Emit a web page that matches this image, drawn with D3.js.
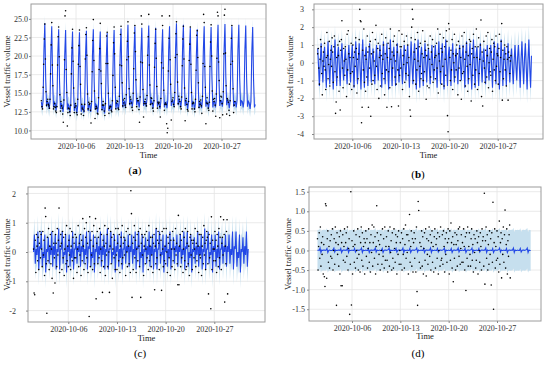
<!DOCTYPE html>
<html>
<head>
<meta charset="utf-8">
<script src="https://cdn.jsdelivr.net/npm/d3@7"></script>
<style>
  body { margin: 0; background: #fff; }
  svg { display: block; font-family: "Liberation Serif", "Times New Roman", serif; }
  svg text { font-family: "Liberation Serif", "Times New Roman", serif; }
  .tick text { fill: #333; font-size: 8px; }
  .tick line { stroke: #888; }
  .grid line { stroke: #e4e4e4; stroke-width: 0.8; }
</style>
</head>
<body>
<svg id="chart" width="550" height="369"></svg>
<script>
// hourly series start, samples within each day, axis ticks
var startDay = "2020-10-01";
var tickDates = ["2020-10-06", "2020-10-13", "2020-10-20", "2020-10-27"];
var fcHours = [0, 3, 6, 9, 12, 15, 18, 21];
var obsHours = [0, 2, 4, 6, 8, 10, 12, 14, 16, 18, 20, 22];

var yTicksA = [10, 12.5, 15, 17.5, 20, 22.5, 25];
var yTicksB = [-4, -3, -2, -1, 0, 1, 2, 3];
var yTicksC = [-2, -1, 0, 1, 2];
var yTicksD = [-1.5, -1, -0.5, 0, 0.5, 1, 1.5];

// half width of the uncertainty interval
var bandHalfA = 1.1;
var bandHalfB = 0.8;
var bandHalfC = 0.55;
var bandHalfD = 0.52;

// (a) forecast, one row per day (Oct 1 - Oct 31)
var forecastA = [
  [13.8, 13.0, 14.0, 20.8, 24.4, 17.0, 13.2, 13.9],
  [13.7, 12.9, 13.9, 20.5, 24.0, 16.9, 13.1, 13.8],
  [13.6, 12.7, 13.7, 20.2, 23.6, 16.6, 12.9, 13.6],
  [13.4, 12.5, 13.6, 20.1, 23.5, 16.5, 12.8, 13.5],
  [13.3, 12.4, 13.5, 19.9, 23.3, 16.4, 12.6, 13.4],
  [13.2, 12.3, 13.4, 19.8, 23.2, 16.3, 12.5, 13.3],
  [13.3, 12.4, 13.5, 20.0, 23.4, 16.4, 12.6, 13.4],
  [13.4, 12.5, 13.6, 20.1, 23.6, 16.5, 12.8, 13.5],
  [13.3, 12.4, 13.5, 19.9, 23.3, 16.4, 12.7, 13.4],
  [13.2, 12.3, 13.4, 19.7, 23.1, 16.2, 12.6, 13.3],
  [13.4, 12.6, 13.7, 20.1, 23.5, 16.6, 12.9, 13.6],
  [13.6, 12.8, 13.9, 20.3, 23.7, 16.8, 13.1, 13.8],
  [13.9, 13.1, 14.2, 20.8, 24.2, 17.2, 13.4, 14.1],
  [13.9, 13.2, 14.2, 20.7, 24.0, 17.1, 13.4, 14.0],
  [13.8, 13.1, 14.1, 20.5, 23.8, 17.0, 13.3, 13.9],
  [13.9, 13.2, 14.3, 20.8, 24.1, 17.2, 13.4, 14.0],
  [13.7, 13.0, 14.0, 20.5, 23.8, 16.9, 13.2, 13.8],
  [13.6, 12.9, 13.9, 20.3, 23.6, 16.8, 13.1, 13.7],
  [13.8, 13.0, 14.1, 20.7, 24.0, 17.0, 13.3, 13.9],
  [14.0, 13.2, 14.3, 21.0, 24.4, 17.3, 13.4, 14.1],
  [13.9, 13.1, 14.2, 20.8, 24.2, 17.2, 13.3, 14.0],
  [13.7, 12.9, 14.0, 20.5, 23.8, 16.9, 13.1, 13.8],
  [13.6, 12.8, 13.8, 20.2, 23.6, 16.7, 13.0, 13.7],
  [13.8, 13.0, 14.0, 20.6, 24.0, 17.0, 13.2, 13.9],
  [13.7, 12.9, 13.9, 20.5, 23.9, 16.9, 13.1, 13.8],
  [13.9, 13.1, 14.1, 20.8, 24.2, 17.1, 13.3, 14.0],
  [14.0, 13.2, 14.2, 20.9, 24.3, 17.2, 13.4, 14.1],
  [13.8, 13.0, 14.0, 20.6, 24.0, 17.0, 13.2, 13.9],
  [13.9, 13.1, 14.1, 20.8, 24.2, 17.1, 13.3, 14.0],
  [13.9, 13.1, 14.0, 20.7, 24.1, 17.0, 13.2, 13.9],
  [13.7, 12.9, 13.9, 20.5, 23.9, 16.9, 13.1, 13.5]
];

// (a) observations, one row per day (Oct 1 - Oct 28)
var observedA = [
  [14.0, 13.2, 12.9, 15.8, 18.9, 22.3, 24.3, 19.6, 15.2, 13.4, 13.9, 14.2],
  [13.5, 13.3, 13.0, 14.2, 17.6, 21.5, 24.5, 18.8, 16.0, 12.9, 13.2, 13.6],
  [13.1, 12.6, 12.4, 13.2, 18.8, 22.6, 23.9, 19.9, 14.8, 12.6, 13.9, 13.3],
  [13.0, 12.2, 11.1, 14.1, 19.5, 25.4, 26.1, 18.2, 15.1, 10.6, 12.4, 13.0],
  [12.9, 12.5, 12.0, 13.4, 17.6, 21.1, 23.6, 19.3, 15.7, 12.4, 13.1, 13.6],
  [13.3, 12.4, 12.1, 14.2, 18.9, 21.4, 23.5, 18.6, 16.2, 12.2, 13.5, 13.0],
  [12.8, 12.0, 12.6, 13.5, 19.6, 22.9, 23.8, 20.1, 14.9, 12.9, 13.8, 13.5],
  [13.6, 12.7, 11.0, 13.9, 17.9, 22.1, 24.9, 19.4, 15.3, 11.6, 12.9, 13.2],
  [13.0, 12.3, 12.2, 14.4, 18.2, 21.0, 24.4, 18.0, 16.3, 12.8, 13.4, 13.9],
  [13.4, 12.6, 12.0, 13.6, 19.0, 22.7, 23.2, 19.0, 15.0, 12.3, 13.0, 13.2],
  [13.2, 12.7, 12.5, 14.0, 17.4, 21.8, 23.9, 20.3, 15.8, 12.9, 13.7, 14.0],
  [13.9, 13.0, 12.8, 14.6, 18.8, 22.9, 24.0, 18.7, 16.4, 13.3, 14.1, 13.7],
  [14.3, 13.4, 13.1, 14.8, 19.5, 22.0, 24.6, 19.9, 15.6, 13.6, 14.5, 14.2],
  [13.7, 13.1, 12.7, 15.0, 18.3, 23.1, 24.1, 20.6, 16.8, 13.2, 14.3, 14.0],
  [14.0, 12.8, 11.1, 14.5, 19.2, 25.4, 24.3, 19.1, 15.5, 11.8, 13.6, 13.9],
  [14.2, 13.6, 13.3, 14.7, 20.1, 22.6, 25.6, 18.8, 16.1, 13.5, 14.4, 14.3],
  [13.6, 13.0, 12.6, 14.0, 18.5, 21.7, 23.6, 19.7, 15.9, 13.0, 13.8, 13.6],
  [13.8, 13.2, 11.8, 14.3, 19.1, 25.4, 24.1, 18.4, 15.4, 12.7, 13.5, 13.7],
  [13.5, 10.9, 9.7, 10.3, 18.0, 22.4, 25.4, 19.5, 16.2, 11.4, 13.9, 14.1],
  [14.4, 13.5, 13.2, 15.1, 19.8, 23.0, 24.6, 20.2, 16.5, 13.6, 14.6, 14.2],
  [13.9, 13.2, 12.9, 14.5, 18.7, 22.3, 24.0, 19.6, 15.7, 11.3, 14.0, 14.3],
  [13.5, 12.8, 12.6, 13.9, 19.4, 21.6, 23.9, 18.9, 15.1, 12.9, 13.6, 13.8],
  [13.7, 12.9, 12.5, 14.2, 18.1, 22.8, 23.4, 19.8, 16.4, 13.1, 13.9, 13.5],
  [14.1, 13.3, 12.3, 14.6, 19.0, 25.6, 24.5, 18.6, 15.8, 10.9, 13.7, 14.4],
  [13.6, 13.0, 12.7, 13.8, 18.6, 21.9, 24.2, 20.0, 15.3, 12.6, 14.2, 13.9],
  [14.3, 13.4, 11.9, 14.9, 19.7, 25.9, 25.4, 19.2, 16.7, 11.7, 14.0, 14.6],
  [14.5, 13.6, 12.1, 15.2, 20.3, 25.5, 26.3, 20.4, 16.0, 12.2, 14.3, 14.1],
  [13.8, 12.7, 12.0, 14.0, 18.9, 22.4, 24.1, 19.3, 15.6, 12.4, 13.4, 13.9]
];

var forecastB = [
  [0.8, -0.2, -1.3, 0.1, 1.1, -0.1, -1.1, 0.3],
  [0.9, -0.3, -1.4, 0.2, 1.2, -0.2, -1.2, 0.3],
  [1.0, -0.3, -1.5, 0.1, 1.3, -0.1, -1.3, 0.4],
  [0.9, -0.2, -1.3, 0.2, 1.1, -0.2, -1.0, 0.2],
  [0.8, -0.3, -1.2, 0.1, 1.0, -0.1, -1.1, 0.3],
  [1.0, -0.2, -1.4, 0.2, 1.2, -0.1, -1.2, 0.3],
  [1.1, -0.3, -1.5, 0.1, 1.3, -0.2, -1.4, 0.4],
  [0.9, -0.2, -1.3, 0.2, 1.1, -0.1, -1.1, 0.2],
  [0.8, -0.3, -1.2, 0.1, 1.0, -0.2, -1.0, 0.3],
  [1.0, -0.2, -1.4, 0.2, 1.2, -0.1, -1.2, 0.3],
  [1.1, -0.3, -1.5, 0.1, 1.3, -0.1, -1.3, 0.4],
  [0.9, -0.2, -1.3, 0.2, 1.1, -0.2, -1.1, 0.2],
  [0.8, -0.3, -1.2, 0.1, 1.0, -0.1, -1.0, 0.3],
  [1.0, -0.2, -1.4, 0.2, 1.2, -0.1, -1.2, 0.3],
  [1.1, -0.3, -1.5, 0.1, 1.3, -0.2, -1.4, 0.4],
  [0.9, -0.2, -1.3, 0.2, 1.1, -0.1, -1.1, 0.2],
  [0.8, -0.3, -1.2, 0.1, 1.0, -0.2, -1.0, 0.3],
  [1.0, -0.2, -1.4, 0.2, 1.2, -0.1, -1.2, 0.3],
  [1.1, -0.3, -1.5, 0.1, 1.3, -0.1, -1.3, 0.4],
  [0.9, -0.2, -1.3, 0.2, 1.1, -0.2, -1.1, 0.2],
  [0.8, -0.3, -1.2, 0.1, 1.0, -0.1, -1.0, 0.3],
  [1.0, -0.2, -1.4, 0.2, 1.2, -0.1, -1.2, 0.3],
  [1.1, -0.3, -1.5, 0.1, 1.3, -0.2, -1.4, 0.4],
  [0.9, -0.2, -1.3, 0.2, 1.1, -0.1, -1.1, 0.2],
  [0.8, -0.3, -1.2, 0.1, 1.0, -0.2, -1.0, 0.3],
  [1.0, -0.2, -1.4, 0.2, 1.2, -0.1, -1.2, 0.3],
  [1.1, -0.3, -1.5, 0.1, 1.3, -0.1, -1.3, 0.4],
  [0.9, -0.2, -1.3, 0.2, 1.1, -0.2, -1.1, 0.2],
  [0.8, -0.3, -1.2, 0.1, 1.0, -0.1, -1.0, 0.3],
  [1.0, -0.2, -1.4, 0.2, 1.2, -0.1, -1.2, 0.3],
  [1.1, -0.3, -1.5, 0.1, 1.3, -0.2, -1.4, 0.4]
];

var observedB = [
  [0.5, 0.8, -0.3, -1.2, 0.2, 1.3, 0.9, -0.6, -1.8, 0.1, 0.6, -0.2],
  [1.1, -0.4, -1.5, 0.3, 1.7, 0.4, -0.9, -0.1, 1.2, -1.3, 0.2, 0.7],
  [-0.2, 1.4, 0.6, -1.1, 0.9, 1.5, -0.5, -2.84, -2.2, 0.3, -0.8, 1.0],
  [0.4, -1.6, 1.2, -2.65, 0.7, 1.3, 2.36, -0.3, -1.4, 0.8, 0.1, -0.7],
  [0.9, 0.2, -1.9, 1.6, -0.4, 1.8, 0.5, -1.2, 0.3, -0.6, 1.1, -1.5],
  [-0.5, 1.0, 0.3, -1.3, 0.6, -0.2, 1.4, 0.8, -1.7, 0.2, -0.9, 0.5],
  [1.3, 3.0, 2.36, 2.3, -3.37, -2.5, 0.7, -0.4, 1.9, -1.1, 0.4, -1.6],
  [0.2, -0.8, 1.5, 0.6, -2.5, 0.9, -0.3, 1.2, -3.0, 0.5, -1.2, 1.7],
  [-1.0, 0.6, 0.1, -0.7, 1.3, 2.1, -0.2, -1.5, 0.8, 1.1, -2.0, 0.3],
  [0.7, -1.3, 0.4, 1.6, -0.6, 0.2, 1.0, -0.9, -1.8, 0.5, 1.4, -0.4],
  [-2.5, 0.3, 1.1, -0.5, 0.8, -1.4, 1.9, 0.2, -2.47, 0.6, -0.3, 1.2],
  [0.4, 1.5, -0.8, 0.1, -1.2, 1.0, 0.6, -0.4, -2.43, 1.8, -0.7, 0.9],
  [-0.3, 0.9, 1.6, -1.5, 0.4, -0.1, 1.2, -1.1, 0.7, -0.6, 1.5, 0.0],
  [1.0, -0.7, 0.3, -1.9, -2.65, -3.0, 1.4, 2.0, 3.0, 2.45, -1.0, 0.6],
  [0.2, 1.3, -1.2, 0.8, -0.4, 1.7, 0.1, -1.6, 0.9, -0.2, 1.1, -0.9],
  [-0.6, 0.5, 1.8, -1.0, 0.3, -0.5, 1.2, 0.7, -2.05, 0.4, -1.3, 1.0],
  [0.8, -1.4, 0.2, 1.5, -0.8, 0.6, -0.1, 1.3, -1.1, 0.9, -0.4, 0.3],
  [-0.9, 0.4, 1.1, -0.3, 1.9, -1.7, 0.5, 0.1, 1.6, -0.5, 0.8, -1.2],
  [0.6, -0.2, 1.4, -1.3, 0.9, 0.2, -0.7, 1.8, 1.2, -2.97, -3.87, 2.2],
  [1.9, 0.3, -1.0, 0.7, -0.4, 1.3, -1.5, 0.5, 0.0, 1.6, -0.8, 0.4],
  [-0.4, 1.0, 0.5, -1.8, 1.2, -0.3, 0.8, -1.0, 0.3, -2.05, 1.5, -0.6],
  [0.9, -0.5, 1.7, 0.2, -1.3, 0.6, 1.1, -0.2, -1.6, 0.4, -0.9, 1.3],
  [-0.1, 1.2, -2.15, 0.5, 0.8, -0.7, 1.6, 0.3, -1.2, 0.9, -0.4, 1.9],
  [0.3, -1.5, 0.9, 1.4, -0.6, 0.2, 1.0, 2.4, -1.9, 0.6, -2.43, 0.1],
  [1.2, -0.3, -1.1, 0.7, 1.5, -0.8, 0.4, 1.7, -1.4, 0.0, 0.8, -0.5],
  [-0.7, 0.6, 1.3, -1.6, 0.2, 1.1, -0.4, 0.9, -1.0, 1.5, -0.2, 0.5],
  [0.4, -1.2, 0.8, 1.6, -0.5, 0.3, 1.2, 2.2, -2.1, 0.7, -0.9, 0.2],
  [1.0, -0.4, 0.5, -1.3, 0.9, 0.2, -2.1, 0.6, 0.3, -0.6, 0.1, 0.4]
];

var forecastC = [
  [0.0, 0.6, -0.4, 0.1, -0.1, 0.7, -0.6, 0.2],
  [0.1, 0.7, -0.5, 0.0, -0.2, 0.6, -0.7, 0.1],
  [0.0, 0.5, -0.4, 0.2, -0.1, 0.7, -0.5, 0.2],
  [-0.1, 0.6, -0.6, 0.1, 0.0, 0.8, -0.6, 0.1],
  [0.1, 0.7, -0.4, 0.0, -0.1, 0.6, -0.7, 0.2],
  [0.0, 0.6, -0.5, 0.1, -0.2, 0.7, -0.6, 0.1],
  [0.1, 0.5, -0.4, 0.2, 0.0, 0.6, -0.5, 0.2],
  [0.0, 0.6, -0.4, 0.1, -0.1, 0.7, -0.6, 0.2],
  [0.1, 0.7, -0.5, 0.0, -0.2, 0.6, -0.7, 0.1],
  [0.0, 0.5, -0.4, 0.2, -0.1, 0.7, -0.5, 0.2],
  [-0.1, 0.6, -0.6, 0.1, 0.0, 0.8, -0.6, 0.1],
  [0.1, 0.7, -0.4, 0.0, -0.1, 0.6, -0.7, 0.2],
  [0.0, 0.6, -0.5, 0.1, -0.2, 0.7, -0.6, 0.1],
  [0.1, 0.5, -0.4, 0.2, 0.0, 0.6, -0.5, 0.2],
  [0.0, 0.6, -0.4, 0.1, -0.1, 0.7, -0.6, 0.2],
  [0.1, 0.7, -0.5, 0.0, -0.2, 0.6, -0.7, 0.1],
  [0.0, 0.5, -0.4, 0.2, -0.1, 0.7, -0.5, 0.2],
  [-0.1, 0.6, -0.6, 0.1, 0.0, 0.8, -0.6, 0.1],
  [0.1, 0.7, -0.4, 0.0, -0.1, 0.6, -0.7, 0.2],
  [0.0, 0.6, -0.5, 0.1, -0.2, 0.7, -0.6, 0.1],
  [0.1, 0.5, -0.4, 0.2, 0.0, 0.6, -0.5, 0.2],
  [0.0, 0.6, -0.4, 0.1, -0.1, 0.7, -0.6, 0.2],
  [0.1, 0.7, -0.5, 0.0, -0.2, 0.6, -0.7, 0.1],
  [0.0, 0.5, -0.4, 0.2, -0.1, 0.7, -0.5, 0.2],
  [-0.1, 0.6, -0.6, 0.1, 0.0, 0.8, -0.6, 0.1],
  [0.1, 0.7, -0.4, 0.0, -0.1, 0.6, -0.7, 0.2],
  [0.0, 0.6, -0.5, 0.1, -0.2, 0.7, -0.6, 0.1],
  [0.1, 0.5, -0.4, 0.2, 0.0, 0.6, -0.5, 0.2],
  [0.0, 0.6, -0.4, 0.1, -0.1, 0.7, -0.6, 0.2],
  [0.1, 0.7, -0.5, 0.0, -0.2, 0.6, -0.7, 0.1],
  [0.0, 0.5, -0.4, 0.2, -0.1, 0.7, -0.5, 0.1]
];

var observedC = [
  [0.1, -1.4, -1.46, 0.4, -0.7, 0.6, 0.2, -0.3, 0.5, -0.6, 0.3, 0.7],
  [-0.2, 0.6, 0.1, -0.5, 0.7, -0.1, 0.4, -0.8, 1.5, 1.21, -0.4, -2.09],
  [0.5, -0.3, 0.8, -0.6, 0.2, 0.6, -0.4, 0.1, -0.9, 0.7, -1.4, 0.3],
  [-0.2, -1.06, 0.6, 0.3, -0.5, 0.8, -0.1, 0.4, 1.5, -0.7, 0.2, 0.6],
  [0.3, -0.6, 0.7, -0.2, 0.5, -0.8, 0.1, 0.6, -0.4, 0.9, -0.3, 0.2],
  [-0.5, 0.4, -0.1, 0.8, -0.6, 0.2, 0.7, -0.3, 0.5, -0.9, 0.3, -0.2],
  [0.6, -0.2, 0.5, -0.7, 0.1, 0.9, -0.5, 0.3, -0.1, 0.6, -0.8, 0.4],
  [-0.3, 1.14, 0.2, -0.6, 0.8, -0.4, 0.5, 1.0, -0.2, 0.3, -0.7, 0.7],
  [-2.2, 1.2, -0.5, 0.4, -0.1, 0.7, -0.6, 0.2, 0.9, -0.4, 0.5, 1.14],
  [-1.6, 0.3, 0.7, -0.4, 0.5, -0.2, 0.8, -0.7, 0.1, 0.6, -0.3, -1.38],
  [0.4, -0.5, 0.2, 0.9, -0.8, 0.3, -0.1, 0.6, -0.5, 0.8, 0.0, -1.38],
  [0.2, 0.7, -0.4, 0.5, -0.9, 0.1, 0.6, -0.2, 0.4, -0.6, 0.8, -0.1],
  [-0.6, 0.3, 0.8, -0.3, 0.6, -0.7, 0.2, 0.5, -0.4, 0.9, -0.2, 0.3],
  [0.5, -0.1, 0.4, -0.8, 0.7, 0.0, -0.5, 0.8, 0.2, -0.4, 0.6, -0.7],
  [2.09, 1.31, -1.55, 0.3, -0.6, 0.5, 0.9, -0.2, 0.4, -0.7, 0.1, 0.6],
  [-0.3, 0.7, 0.2, -0.5, 0.8, -1.55, 0.3, 0.6, -0.1, 0.5, -0.8, 0.2],
  [0.6, -0.4, 0.1, 0.7, -0.2, 0.4, -0.6, 0.9, -0.3, 0.2, 0.5, -0.5],
  [-0.1, 0.5, -0.7, 0.3, 0.6, -1.29, 0.2, -0.4, 0.8, -0.2, 0.4, 0.7],
  [0.3, -0.6, 0.6, -0.1, 0.4, -1.31, 0.7, 0.1, -0.5, 0.8, -0.3, 0.2],
  [-0.4, 0.8, 0.0, -0.7, 0.5, 0.3, -0.2, 0.6, -0.8, 0.4, 0.1, -0.5],
  [0.7, -0.3, 0.4, 0.1, -0.6, 0.8, -0.1, 0.3, -0.4, -1.12, 1.25, -1.12],
  [0.2, 0.6, -0.5, 0.4, -0.2, 0.7, -0.7, 0.1, 0.5, -0.3, 0.8, -0.6],
  [-0.5, 0.3, 0.7, -0.4, 0.2, -0.8, 0.5, 0.6, -0.1, 0.4, -0.6, 0.3],
  [0.4, -0.2, 0.1, 0.8, -0.5, 0.3, -0.3, 0.7, 0.2, -0.7, 0.6, -0.1],
  [-0.2, 0.6, -0.8, 0.2, 0.5, -0.4, 0.9, -0.1, 0.3, -0.6, 0.4, 0.7],
  [0.5, -0.4, -1.43, 0.6, -0.2, 0.3, -1.94, 1.2, -0.6, 0.4, 0.1, -0.3],
  [0.1, 0.7, -0.3, 0.4, -0.7, 0.6, 0.2, -0.5, 0.8, -0.2, 0.5, 1.2],
  [-0.6, 0.3, 0.5, -0.1, 1.1, 0.6, -1.71, 0.2, -0.4, 0.7, 1.1, -1.43]
];

var forecastD = [
  [0.0, 0.01, 0.0, 0.06, -0.05, 0.01, 0.0, 0.01],
  [0.01, 0.0, 0.01, 0.05, -0.05, 0.0, 0.01, 0.0],
  [0.0, 0.0, 0.02, 0.06, -0.04, 0.01, 0.0, 0.0],
  [0.01, 0.01, 0.0, 0.05, -0.05, 0.0, 0.01, 0.01],
  [0.0, 0.01, 0.01, 0.06, -0.05, 0.01, 0.0, 0.0],
  [0.01, 0.0, 0.0, 0.05, -0.04, 0.0, 0.01, 0.01],
  [0.0, 0.01, 0.02, 0.06, -0.05, 0.01, 0.0, 0.0],
  [0.01, 0.0, 0.0, 0.05, -0.05, 0.0, 0.01, 0.01],
  [0.0, 0.01, 0.01, 0.06, -0.04, 0.01, 0.0, 0.0],
  [0.01, 0.0, 0.0, 0.05, -0.05, 0.0, 0.01, 0.01],
  [0.0, 0.01, 0.02, 0.06, -0.05, 0.01, 0.0, 0.0],
  [0.01, 0.0, 0.0, 0.05, -0.04, 0.0, 0.01, 0.01],
  [0.0, 0.01, 0.01, 0.06, -0.05, 0.01, 0.0, 0.0],
  [0.01, 0.0, 0.0, 0.05, -0.05, 0.0, 0.01, 0.01],
  [0.0, 0.01, 0.02, 0.06, -0.04, 0.01, 0.0, 0.0],
  [0.01, 0.0, 0.0, 0.05, -0.05, 0.0, 0.01, 0.01],
  [0.0, 0.01, 0.01, 0.06, -0.05, 0.01, 0.0, 0.0],
  [0.01, 0.0, 0.0, 0.05, -0.04, 0.0, 0.01, 0.01],
  [0.0, 0.01, 0.02, 0.06, -0.05, 0.01, 0.0, 0.0],
  [0.01, 0.0, 0.0, 0.05, -0.05, 0.0, 0.01, 0.01],
  [0.0, 0.01, 0.01, 0.06, -0.04, 0.01, 0.0, 0.0],
  [0.01, 0.0, 0.0, 0.05, -0.05, 0.0, 0.01, 0.01],
  [0.0, 0.01, 0.02, 0.06, -0.05, 0.01, 0.0, 0.0],
  [0.01, 0.0, 0.0, 0.05, -0.04, 0.0, 0.01, 0.01],
  [0.0, 0.01, 0.01, 0.06, -0.05, 0.01, 0.0, 0.0],
  [0.01, 0.0, 0.0, 0.05, -0.05, 0.0, 0.01, 0.01],
  [0.0, 0.01, 0.02, 0.06, -0.04, 0.01, 0.0, 0.0],
  [0.01, 0.0, 0.0, 0.05, -0.05, 0.0, 0.01, 0.01],
  [0.0, 0.01, 0.01, 0.06, -0.05, 0.01, 0.0, 0.0],
  [0.01, 0.0, 0.0, 0.05, -0.04, 0.0, 0.01, 0.01],
  [0.0, 0.01, 0.02, 0.06, -0.05, 0.01, 0.0, 0.0]
];

var observedD = [
  [0.3, -0.5, 0.1, 0.45, -0.2, 0.6, -0.4, 0.2, -0.1, 0.35, -0.6, 0.15],
  [-0.67, -0.92, 1.19, 1.14, -0.71, 0.3, 0.5, -0.3, 0.1, -0.45, 0.25, -0.15],
  [0.4, -0.2, 0.55, -0.5, 0.0, 0.3, -0.35, 0.6, 0.2, -1.4, 0.45, -0.1],
  [0.15, -0.4, 0.35, -0.6, 0.5, -0.9, 0.2, -0.9, 0.4, -0.25, 0.1, 0.55],
  [-0.3, 0.2, 0.45, -0.15, 0.6, -0.5, 0.05, 0.3, -1.63, -0.35, 1.5, -1.39],
  [0.25, -0.6, 0.1, 0.5, -0.3, 0.15, -0.45, 0.4, 0.0, -0.2, 0.55, -0.5],
  [-0.1, 0.35, -0.55, 0.2, 0.6, -0.25, 0.45, -0.4, 0.1, 0.3, -0.6, 0.2],
  [0.5, -0.15, 0.3, -0.45, 0.05, 0.55, -0.3, 0.2, -0.55, 0.4, -0.05, 0.65],
  [-0.4, 0.2, 0.6, -0.2, 0.35, -0.6, 0.1, 1.14, 0.45, -0.35, 0.25, -0.1],
  [0.15, -0.5, 0.4, 0.0, -0.35, 0.55, -0.15, 0.3, -0.45, 0.6, -0.25, 0.1],
  [0.35, -0.25, -0.55, 0.5, 0.1, -0.4, 0.6, -0.05, 0.25, -0.5, 0.45, -0.2],
  [-0.45, 0.55, 0.05, -0.3, 0.4, 0.2, -0.6, 0.35, -0.1, 0.5, -0.35, 0.0],
  [0.2, -0.35, 0.45, -0.5, 0.3, -0.1, 0.55, -0.45, 0.15, 0.65, -0.2, 0.4],
  [-0.05, 0.4, -0.6, 0.25, 0.92, -0.3, 0.1, 0.5, -0.4, 0.3, -0.55, 0.2],
  [0.45, -0.2, 0.3, -0.55, 0.6, -1.05, -1.4, 1.25, 1.02, -0.3, 0.2, -0.45],
  [0.1, 0.5, -0.4, 0.35, -0.6, 0.05, 0.45, -0.25, 0.55, -0.65, 0.3, -0.1],
  [-0.35, 0.25, 0.6, -0.15, 0.4, -0.5, 0.2, 0.5, -0.3, 0.1, -0.55, 0.35],
  [0.55, -0.45, 0.15, 0.3, -0.2, 0.45, -0.6, 0.0, 0.35, -0.4, 0.6, -0.25],
  [-0.2, 0.4, -0.35, 0.5, 0.1, -0.55, 0.3, -0.1, 0.45, -0.3, 0.2, 0.55],
  [0.3, -0.6, 0.5, -0.25, 0.7, 0.2, -0.45, 0.35, -0.8, 0.15, -0.2, 0.45],
  [-0.5, 0.15, 0.4, -0.4, 0.25, 0.55, -0.15, 0.6, -0.35, 0.05, 0.4, -0.3],
  [0.2, -0.3, 0.55, 0.1, -0.5, 0.35, -1.02, 0.45, -0.2, 0.6, -0.4, 0.1],
  [0.45, -0.1, -0.4, 0.3, 0.55, -0.25, 0.15, -0.55, 0.4, -0.05, 0.3, -0.45],
  [-0.25, 0.5, 0.2, -0.6, 0.35, 0.0, -0.3, 0.45, 0.1, -0.5, 0.55, 0.25],
  [0.35, -0.4, 1.46, -0.86, 0.25, 0.6, -0.2, 0.4, -0.5, 0.15, -0.35, 0.5],
  [-0.1, 0.3, -0.88, 0.45, -0.3, 1.23, -1.5, 0.2, 0.55, -0.45, 0.1, -0.25],
  [0.5, -0.2, 0.35, -0.55, 0.75, -0.35, 0.2, 0.45, -0.7, 0.3, -0.1, 0.6],
  [-0.3, 0.4, 1.03, -0.45, 0.15, 0.55, -0.6, 0.25, -0.15, 0.4, 0.65, -0.7]
];

// layout of the four sub-figures
var panels = [
  { id: "a", bold: true, fc: forecastA, obs: observedA, half: bandHalfA, yTicks: yTicksA, fmt: ".1f",
    box: { x0: 31, x1: 266, y0: 4, y1: 139 }, yDom: [8.85, 27.0], xAt: [76, 221.5],
    yPad: 1, ylabX: 10, timeY: 158, cap: [135, 174] },
  { id: "b", bold: true, fc: forecastB, obs: observedB, half: bandHalfB, yTicks: yTicksB, fmt: "d",
    box: { x0: 314, x1: 543, y0: 4, y1: 139 }, yDom: [-4.28, 3.3], xAt: [352.3, 497.7],
    yPad: 8, ylabX: 293, timeY: 158, cap: [418, 178] },
  { id: "c", bold: false, fc: forecastC, obs: observedC, half: bandHalfC, yTicks: yTicksC, fmt: "d",
    box: { x0: 28, x1: 265, y0: 187, y1: 322 }, yDom: [-2.39, 2.22], xAt: [68.3, 214.3],
    yPad: 10, ylabX: 10, timeY: 341, cap: [140, 357] },
  { id: "d", bold: false, fc: forecastD, obs: observedD, half: bandHalfD, yTicks: yTicksD, fmt: ".1f",
    box: { x0: 309, x1: 541, y0: 187, y1: 321 }, yDom: [-1.80, 1.62], xAt: [352, 497],
    yPad: 2, ylabX: 291, timeY: 339, cap: [418, 357] }
];

var serif = "'Liberation Serif', 'Times New Roman', serif";
var parseDay = d3.timeParse("%Y-%m-%d");
var day0 = parseDay(startDay);

function toSeries(rows, hours) {
  var out = [];
  rows.forEach(function(row, d) {
    row.forEach(function(v, i) {
      out.push({ t: d3.timeHour.offset(day0, d * 24 + hours[i]), v: v });
    });
  });
  return out;
}

var svg = d3.select("#chart");
svg.append("rect").attr("width", 550).attr("height", 369).attr("fill", "#fff");

function drawPanel(p) {
  var b = p.box;
  var ticks = tickDates.map(parseDay);
  var x = d3.scaleTime().domain([ticks[0], ticks[3]]).range(p.xAt);
  var y = d3.scaleLinear().domain(p.yDom).range([b.y1, b.y0]);
  var g = svg.append("g").classed("panel", true);

  g.append("clipPath").attr("id", "clip-" + p.id)
    .append("rect")
    .attr("x", b.x0).attr("y", b.y0)
    .attr("width", b.x1 - b.x0).attr("height", b.y1 - b.y0);

  var grid = g.append("g").classed("grid", true);
  grid.selectAll("line.h")
    .data(p.yTicks)
    .enter()
    .append("line")
    .attr("x1", b.x0).attr("x2", b.x1)
    .attr("y1", function(d) { return y(d); })
    .attr("y2", function(d) { return y(d); });
  grid.selectAll("line.v")
    .data(ticks)
    .enter()
    .append("line")
    .attr("y1", b.y0).attr("y2", b.y1)
    .attr("x1", function(d) { return x(d); })
    .attr("x2", function(d) { return x(d); });

  var fc = toSeries(p.fc, fcHours);
  var obs = toSeries(p.obs, obsHours);

  var band = d3.area()
    .x(function(d) { return x(d.t); })
    .y0(function(d) { return y(d.v - p.half); })
    .y1(function(d) { return y(d.v + p.half); });
  var line = d3.line()
    .x(function(d) { return x(d.t); })
    .y(function(d) { return y(d.v); });

  var plot = g.append("g").attr("clip-path", "url(#clip-" + p.id + ")");
  plot.append("path").datum(fc)
    .attr("d", band)
    .attr("fill", "#c6dfee");
  plot.append("path").datum(fc)
    .attr("d", line)
    .attr("fill", "none")
    .attr("stroke", "#2348e6")
    .attr("stroke-width", 1.1);
  plot.selectAll("circle.obs")
    .data(obs)
    .enter()
    .append("circle")
    .classed("obs", true)
    .attr("cx", function(d) { return x(d.t); })
    .attr("cy", function(d) { return y(d.v); })
    .attr("r", 0.8)
    .attr("fill", "#000");

  g.append("rect")
    .attr("x", b.x0).attr("y", b.y0)
    .attr("width", b.x1 - b.x0).attr("height", b.y1 - b.y0)
    .attr("fill", "none")
    .attr("stroke", "#9c9c9c")
    .attr("stroke-width", 1);

  var num = d3.format(p.fmt);
  var xAxis = d3.axisBottom(x)
    .tickValues(ticks)
    .tickFormat(d3.timeFormat("%Y-%m-%d"))
    .tickSize(2)
    .tickPadding(2);
  g.append("g")
    .attr("transform", "translate(0," + b.y1 + ")")
    .call(xAxis)
    .attr("font-family", serif)
    .attr("font-size", 8)
    .call(function(a) { a.select(".domain").remove(); });

  var yAxis = d3.axisLeft(y)
    .tickValues(p.yTicks)
    .tickFormat(function(d) { return num(d).replace("\u2212", "-"); })
    .tickSize(2)
    .tickPadding(p.yPad);
  g.append("g")
    .attr("transform", "translate(" + b.x0 + ",0)")
    .call(yAxis)
    .attr("font-family", serif)
    .attr("font-size", 8)
    .call(function(a) { a.select(".domain").remove(); });

  g.append("text")
    .attr("transform", "translate(" + p.ylabX + "," + ((b.y0 + b.y1) / 2) + ") rotate(-90)")
    .attr("text-anchor", "middle")
    .style("font-family", serif)
    .style("font-size", "8.5px")
    .attr("fill", "#222")
    .text("Vessel traffic volume");

  g.append("text")
    .attr("x", (b.x0 + b.x1) / 2)
    .attr("y", p.timeY)
    .attr("text-anchor", "middle")
    .style("font-family", serif)
    .style("font-size", "8.5px")
    .attr("fill", "#222")
    .text("Time");

  var cap = g.append("text")
    .attr("x", p.cap[0])
    .attr("y", p.cap[1])
    .attr("text-anchor", "middle")
    .style("font-family", serif)
    .style("font-size", "11px")
    .attr("fill", "#000");
  cap.append("tspan").text("(");
  cap.append("tspan").attr("font-weight", p.bold ? "bold" : "normal").text(p.id);
  cap.append("tspan").text(")");
}

panels.forEach(drawPanel);
</script>
</body>
</html>
